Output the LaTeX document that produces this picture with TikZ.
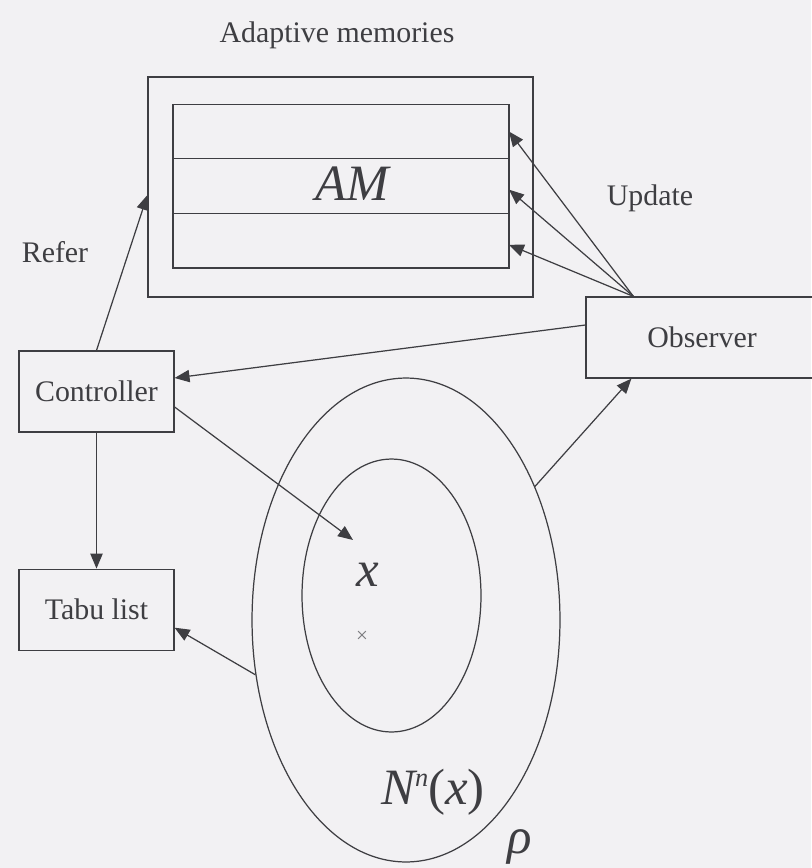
\documentclass[tikz,border=0pt]{standalone}
\usepackage{fontspec}
\setmainfont{Liberation Serif}
\usepackage{xcolor}
\usetikzlibrary{shapes.geometric, arrows.meta, positioning}
\definecolor{scan}{RGB}{242,241,243}
\definecolor{ink}{RGB}{62,62,66}
\tikzset{
  block/.style={rectangle, draw=ink, minimum width=3.1cm, minimum height=1.62cm,
                align=center, font=\rmfamily\fontsize{17}{20}\selectfont, text=ink, line width=0.7pt},
  row/.style={rectangle, draw=ink, minimum width=6.72cm, minimum height=1.093cm,
              inner sep=0pt, outer sep=0pt, line width=0.7pt},
  frame/.style={rectangle, draw=ink, minimum width=7.7cm, minimum height=4.4cm,
                inner sep=0pt, line width=0.7pt},
  region/.style={ellipse, draw=ink, inner sep=0pt, line width=0.7pt},
  arrow/.style={-{Triangle[length=8.5pt, width=7pt]}, draw=ink, line width=0.7pt},
  tag/.style={font=\rmfamily\fontsize{17}{20}\selectfont, text=ink},
  symb/.style={font=\rmfamily\fontsize{29}{32}\selectfont\itshape, text=ink},
}

\begin{document}
\begin{tikzpicture}[x=0.02cm, y=-0.02cm]
  \fill[scan] (0,0) rectangle (811,868);
  \useasboundingbox (0,0) rectangle (811,868);

  % Adaptive memories
  \node[frame] (amframe) at (340.5,187) {};
  \node[tag] (amtitle) at (337,35) {Adaptive memories};
  \node[row] (row1) at (341,131.5) {};
  \node[row, below=0pt of row1] (row2) {};
  \node[row, below=0pt of row2] (row3) {};
  \node[symb] (am) at (352,184) {AM};

  % Controller / Tabu list / Observer
  \node[block] (controller) at (96.5,391.5) {Controller};
  \node[block, below=2.72cm of controller] (tabu) {Tabu list};
  \node[block, minimum width=4.64cm] (observer) at (702,337.5) {Observer};

  % Neighbourhood
  \node[region, minimum width=6.16cm, minimum height=9.68cm] (nbhd) at (406,620) {};
  \node[region, minimum width=3.58cm, minimum height=5.46cm] (core) at (391.5,595.5) {};
  \node[symb] (x) at (368,575) {x};
  \node[font=\rmfamily\fontsize{12}{12}\selectfont, text=ink!70] (xmark) at (362,637) {×};
  \node[symb] (nnx) at (433,792) {N\raisebox{0.75ex}{\fontsize{15}{15}\selectfont n}\upshape(\itshape x\upshape)};
  \node[symb] (rho) at (520,847) {ρ};

  % Labels
  \node[tag] (refer) at (55,252) {Refer};
  \node[tag] (update) at (650,198) {Update};

  % Edges
  \draw[arrow] (controller.north) -- ([yshift=-0.16cm]amframe.west);
  \draw[arrow] (controller.south) -- (tabu.north);
  \draw[arrow] ([yshift=0.25cm]observer.west) -- ([yshift=0.27cm]controller.east);
  \coordinate (xtip) at (353,540);
  \draw[arrow] ([yshift=-0.31cm]controller.east) -- (xtip);
  \draw[arrow] (nbhd.200) -- ([yshift=-0.36cm]tabu.east);
  \draw[arrow] (nbhd.46) -- ([xshift=0.92cm]observer.south west);

  % Update
  \coordinate (upd) at ([xshift=0.96cm]observer.north west);
  \draw[arrow] (upd) -- (row1.east);
  \draw[arrow] (upd) -- ([yshift=-0.07cm]row2.east);
  \draw[arrow] (upd) -- ([yshift=-0.08cm]row3.east);

\end{tikzpicture}
\end{document}
